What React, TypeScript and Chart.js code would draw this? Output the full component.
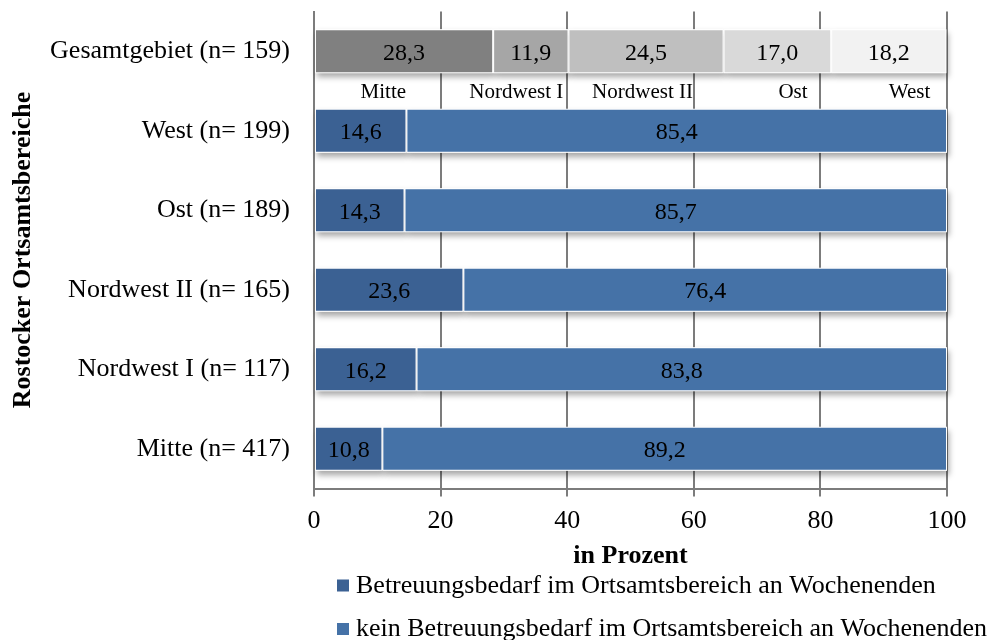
import React, { useEffect, useRef } from 'react';
import { Chart, registerables } from 'chart.js';

Chart.register(...registerables);

// ---- data ----
const categories = [
  'Gesamtgebiet (n= 159)',
  'West (n= 199)',
  'Ost (n= 189)',
  'Nordwest II (n= 165)',
  'Nordwest I (n= 117)',
  'Mitte (n= 417)',
];
const totalLabels = ['Mitte', 'Nordwest I', 'Nordwest II', 'Ost', 'West'];
const totalValues = [28.3, 11.9, 24.5, 17.0, 18.2];
const bedarfValues: (number | null)[] = [null, 14.6, 14.3, 23.6, 16.2, 10.8];
const keinBedarfValues: (number | null)[] = [null, 85.4, 85.7, 76.4, 83.8, 89.2];
const seriesLabels = [
  'Betreuungsbedarf im Ortsamtsbereich an Wochenenden',
  'kein Betreuungsbedarf im Ortsamtsbereich an Wochenenden',
];
const xTicks = [0, 20, 40, 60, 80, 100];

// ---- styles ----
const SERIF = '"Liberation Serif", "Times New Roman", serif';
const grayColors = ['#808080', '#a6a6a6', '#bfbfbf', '#d9d9d9', '#f2f2f2'];
const blueColors = ['#3b6193', '#4572a7'];
const gridColor = '#7c7c7c';
// anchor (in axis units) of the district names written under the total bar
const totalLabelAnchors = [10.95, 31.96, 51.9, 75.67, 94.08];

const fmt = (v: number) => v.toFixed(1).replace('.', ',');

const shadowPlugin = {
  id: 'barShadow',
  beforeDatasetsDraw(chart: any) {
    const ctx = chart.ctx;
    ctx.save();
    ctx.shadowColor = 'rgba(0,0,0,0.35)';
    ctx.shadowBlur = 6;
    ctx.shadowOffsetX = 2;
    ctx.shadowOffsetY = 4;
    ctx.fillStyle = '#ffffff';
    chart.data.datasets.forEach((ds: any, i: number) => {
      const meta = chart.getDatasetMeta(i);
      meta.data.forEach((bar: any, j: number) => {
        if (ds.data[j] == null) return;
        const p = bar.getProps(['x', 'y', 'base', 'height'], true);
        const x0 = Math.min(p.x, p.base);
        const w = Math.abs(p.x - p.base);
        ctx.fillRect(x0, p.y - p.height / 2, w, p.height);
      });
    });
    ctx.restore();
  },
};

const labelPlugin = {
  id: 'valueLabels',
  afterDatasetsDraw(chart: any) {
    const ctx = chart.ctx;
    ctx.save();
    ctx.fillStyle = '#000';
    ctx.textAlign = 'center';
    ctx.textBaseline = 'middle';
    ctx.font = `24px ${SERIF}`;
    chart.data.datasets.forEach((ds: any, i: number) => {
      const meta = chart.getDatasetMeta(i);
      meta.data.forEach((bar: any, j: number) => {
        const v = ds.data[j];
        if (v == null) return;
        const p = bar.getProps(['x', 'y', 'base'], true);
        ctx.fillText(fmt(v), (p.x + p.base) / 2, p.y + 2);
      });
    });
    // district names under the total bar
    const xs = chart.scales.x;
    const ys = chart.scales.y;
    const band = ys.height / categories.length;
    const baseY = ys.getPixelForValue(0) + band * 0.584;
    ctx.font = `21px ${SERIF}`;
    ctx.textBaseline = 'alphabetic';
    totalLabels.forEach((t, k) => {
      ctx.fillText(t, xs.getPixelForValue(totalLabelAnchors[k]), baseY);
    });
    ctx.restore();
  },
};

const legendPlugin = {
  id: 'customLegend',
  afterDraw(chart: any) {
    const ctx = chart.ctx;
    const area = chart.chartArea;
    ctx.save();
    ctx.font = `26px ${SERIF}`;
    ctx.textAlign = 'left';
    ctx.textBaseline = 'alphabetic';
    const boxX = area.left + 23;
    const textX = area.left + 42;
    const baselines = [area.bottom + 104, area.bottom + 147.5];
    seriesLabels.forEach((t, k) => {
      const b = baselines[k];
      ctx.fillStyle = blueColors[k];
      ctx.fillRect(boxX, b - 13, 12, 12);
      ctx.fillStyle = '#000';
      ctx.fillText(t, textX, b);
    });
    ctx.restore();
  },
};

export default function App() {
  const ref = useRef<HTMLCanvasElement | null>(null);

  useEffect(() => {
    if (!ref.current) return;
    document.body.style.margin = '0';

    const datasets: any[] = [];
    totalLabels.forEach((lab, i) => {
      datasets.push({
        label: lab,
        data: categories.map((_, j) => (j === 0 ? totalValues[i] : null)),
        backgroundColor: grayColors[i],
        borderColor: '#ffffff',
        borderWidth: 1,
        borderSkipped: false,
      });
    });
    datasets.push({
      label: seriesLabels[0],
      data: bedarfValues,
      backgroundColor: blueColors[0],
      borderColor: '#ffffff',
      borderWidth: 1,
      borderSkipped: false,
    });
    datasets.push({
      label: seriesLabels[1],
      data: keinBedarfValues,
      backgroundColor: blueColors[1],
      borderColor: '#ffffff',
      borderWidth: 1,
      borderSkipped: false,
    });

    const chart = new Chart(ref.current, {
      type: 'bar',
      data: { labels: categories, datasets },
      plugins: [shadowPlugin, labelPlugin, legendPlugin],
      options: {
        responsive: false,
        animation: false,
        indexAxis: 'y',
        layout: { padding: { left: 0, right: 59, top: 11.5, bottom: 68.4 } },
        datasets: {
          bar: { barPercentage: 0.553, categoryPercentage: 1 },
        },
        plugins: {
          legend: { display: false },
          tooltip: { enabled: false },
        },
        scales: {
          x: {
            type: 'linear',
            stacked: true,
            min: 0,
            max: 100,
            afterBuildTicks: (s: any) => {
              s.ticks = xTicks.map((v) => ({ value: v }));
            },
            afterFit: (s: any) => {
              s.height = 83.1;
            },
            grid: {
              color: gridColor,
              lineWidth: 2,
              drawTicks: true,
              tickLength: 8,
              tickColor: gridColor,
            },
            border: { display: true, color: gridColor, width: 2 },
            ticks: {
              color: '#000',
              padding: 9,
              font: { family: SERIF, size: 26 },
              maxRotation: 0,
            },
            title: {
              display: true,
              text: 'in Prozent',
              color: '#000',
              padding: { top: 0, bottom: 0 },
              font: { family: SERIF, size: 26, weight: 'bold' },
            },
          },
          y: {
            type: 'category',
            stacked: true,
            afterFit: (s: any) => {
              s.width = 314;
            },
            grid: { display: false, drawTicks: true, tickLength: 24 },
            border: { display: true, color: gridColor, width: 2 },
            ticks: {
              color: '#000',
              padding: 0,
              font: { family: SERIF, size: 26, lineHeight: 0.8 },
            },
            title: {
              display: true,
              text: 'Rostocker Ortsamtsbereiche',
              color: '#000',
              padding: { top: 8, bottom: 0 },
              font: { family: SERIF, size: 26, weight: 'bold' },
            },
          },
        },
      } as any,
    });

    return () => {
      chart.destroy();
    };
  }, []);

  return (
    <div style={{ position: 'fixed', left: 0, top: 0, width: 1006, height: 640, background: '#fff' }}>
      <canvas ref={ref} width={1006} height={640} style={{ display: 'block', width: 1006, height: 640 }} />
    </div>
  );
}
